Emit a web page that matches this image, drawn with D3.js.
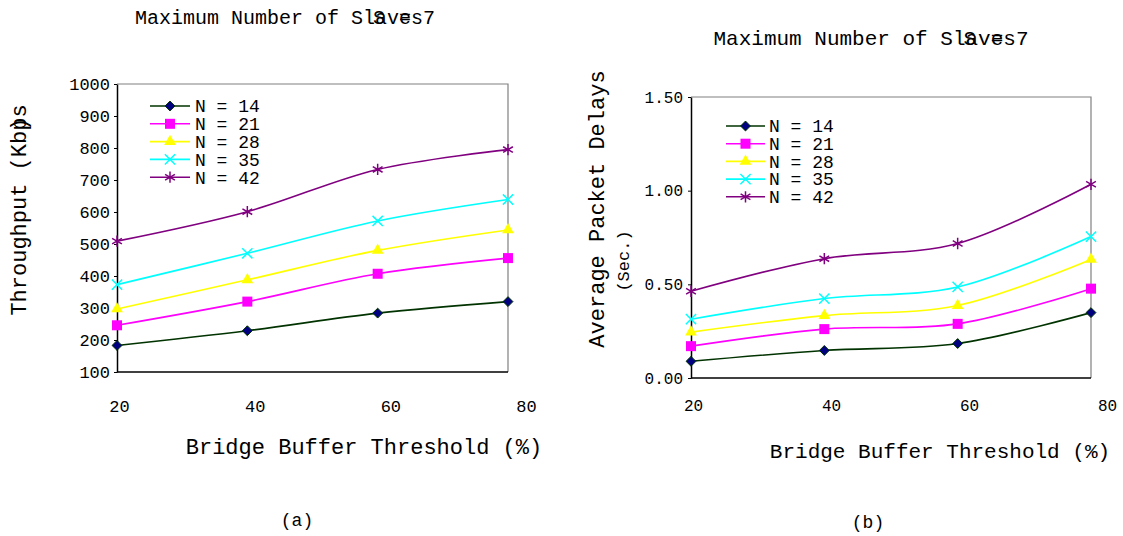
<!DOCTYPE html>
<html>
<head>
<meta charset="utf-8">
<script src="https://cdn.jsdelivr.net/npm/d3@7"></script>
<style>
  body { margin: 0; background: #fff; }
  svg text { font-family: "Courier New", "Liberation Mono", monospace; fill: #000; }
</style>
</head>
<body>
<svg id="chart" width="1123" height="536"></svg>
<script>
// x values (bridge buffer threshold, %)
const bufferPct = [20, 40, 60, 80];
const seriesLabels = ['N = 14', 'N = 21', 'N = 28', 'N = 35', 'N = 42'];

// (a) throughput, Kbps
const throughputN14 = [183, 229, 284, 320];
const throughputN21 = [246, 320, 407, 456];
const throughputN28 = [297, 388, 480, 544];
const throughputN35 = [373, 471, 572, 639];
const throughputN42 = [509, 601, 733, 795];
const throughputTicks = [100, 200, 300, 400, 500, 600, 700, 800, 900, 1000];

// (b) average packet delay, sec
const delayN14 = [0.089, 0.147, 0.184, 0.349];
const delayN21 = [0.170, 0.261, 0.289, 0.477];
const delayN28 = [0.245, 0.333, 0.387, 0.633];
const delayN35 = [0.314, 0.424, 0.486, 0.755];
const delayN42 = [0.463, 0.637, 0.718, 1.034];
const delayTicks = [0, 0.5, 1.0, 1.5];

const seriesStyle = [
  { color: '#003300', fill: '#000080', symbol: d3.symbolDiamond2 || d3.symbolDiamond, size: 62, sw: 1 },
  { color: '#ff00ff', fill: '#ff00ff', symbol: d3.symbolSquare, size: 100, sw: 0 },
  { color: '#ffff00', fill: '#ffff00', symbol: d3.symbolTriangle, size: 60, sw: 0 },
  { color: '#00ffff', fill: 'none', symbol: d3.symbolTimes || d3.symbolX || d3.symbolCross, size: 70, sw: 1.5 },
  { color: '#800080', fill: 'none', symbol: d3.symbolAsterisk || d3.symbolCross, size: 90, sw: 1.5 }
];

const svg = d3.select('#chart');
svg.append('rect').attr('width', 1123).attr('height', 536).attr('fill', '#fff');

// draws a text, then puts extra glyphs on top of some characters (the garbled bits of the original)
function overlayText(g, str, fontSize, overlays) {
  const t = g.append('text').attr('x', 0).attr('y', 0).attr('dy', '0.35em')
    .style('font-size', fontSize + 'px').text(str);
  const node = t.node();
  const w = node.getComputedTextLength();
  t.attr('x', -w / 2);
  overlays.forEach(o => {
    const p = node.getStartPositionOfChar(o.idx);
    g.append('text').attr('x', p.x + (o.dx || 0)).attr('y', 0).attr('dy', '0.35em')
      .style('font-size', fontSize + 'px').text(o.ch);
  });
}

function drawPanel(p) {
  const g = svg.append('g');
  const x = d3.scaleLinear().domain([20, 80]).range([p.left, p.right]);
  const xLab = d3.scaleLinear().domain([20, 80]).range(p.labelRange);
  const y = d3.scaleLinear().domain(p.yDomain).range([p.bottom, p.top]);

  // gray top/right border
  g.append('path')
    .attr('d', `M${p.left},${p.top}H${p.right}V${p.bottom}`)
    .attr('fill', 'none').attr('stroke', '#808080').attr('stroke-width', 1.2);

  // y axis
  const ya = g.append('g').attr('transform', `translate(${p.left},0)`)
    .call(d3.axisLeft(y).tickValues(p.yTicks).tickFormat(p.fmt).tickSizeInner(3).tickSizeOuter(0).tickPadding(p.tickPad));
  ya.select('.domain').attr('stroke', '#000').attr('stroke-width', 1.5);
  ya.selectAll('.tick line').attr('stroke', '#000');
  ya.selectAll('text').style('font-size', p.tickFont + 'px');

  // bottom axis line
  g.append('line').attr('x1', p.left).attr('x2', p.right).attr('y1', p.bottom).attr('y2', p.bottom)
    .attr('stroke', '#000').attr('stroke-width', 1.5);

  // x labels (spread a bit wider than the points, like the original)
  const xa = g.append('g').attr('transform', `translate(0,${p.xLabelY})`)
    .call(d3.axisBottom(xLab).tickValues(bufferPct).tickSize(0).tickPadding(0));
  xa.select('.domain').remove();
  xa.selectAll('text').attr('dy', '0.35em').style('font-size', p.tickFont + 'px');

  const line = d3.line()
    .x(d => x(d[0]))
    .y(d => y(d[1]))
    .curve(d3.curveCatmullRom.alpha(0.5));

  p.series.forEach((vals, i) => {
    const st = seriesStyle[i];
    const pts = bufferPct.map((b, j) => [b, vals[j]]);
    g.append('path').datum(pts)
      .attr('d', line).attr('fill', 'none')
      .attr('stroke', st.color).attr('stroke-width', 1.6);
  });

  p.series.forEach((vals, i) => {
    const st = seriesStyle[i];
    const sym = d3.symbol().type(st.symbol).size(st.size);
    g.selectAll(null).data(bufferPct.map((b, j) => [b, vals[j]]))
      .enter().append('path')
      .attr('transform', d => `translate(${x(d[0])},${y(d[1])})`)
      .attr('d', sym)
      .attr('fill', st.fill)
      .attr('stroke', st.color)
      .attr('stroke-width', st.sw);
  });

  // legend
  const lg = g.append('g');
  seriesLabels.forEach((lab, i) => {
    const st = seriesStyle[i];
    const ly = p.legend.y + i * p.legend.step;
    lg.append('line').attr('x1', p.legend.x0).attr('x2', p.legend.x1).attr('y1', ly).attr('y2', ly)
      .attr('stroke', st.color).attr('stroke-width', 1.6);
    lg.append('path').attr('transform', `translate(${(p.legend.x0 + p.legend.x1) / 2},${ly})`)
      .attr('d', d3.symbol().type(st.symbol).size(st.size))
      .attr('fill', st.fill).attr('stroke', st.color).attr('stroke-width', st.sw);
    lg.append('text').attr('x', p.legend.tx).attr('y', ly).attr('dy', '0.35em')
      .style('font-size', p.legendFont + 'px').text(lab);
  });

  // title
  const tg = g.append('g').attr('transform', `translate(${p.title.cx},${p.title.cy})`);
  overlayText(tg, 'Maximum Number of Slaves7', p.title.size, [
    { idx: 20, ch: 'S', dx: -2 },
    { idx: 22, ch: '=' }
  ]);

  // x title
  g.append('text').attr('x', p.xTitle.cx).attr('y', p.xTitle.cy).attr('dy', '0.35em')
    .attr('text-anchor', 'middle').style('font-size', p.xTitle.size + 'px')
    .text('Bridge Buffer Threshold (%)');

  // y title(s)
  p.yTitles.forEach(t => {
    const yg = g.append('g').attr('transform', `translate(${t.cx},${t.cy}) rotate(-90)`);
    overlayText(yg, t.text, t.size, t.overlays || []);
  });

  // caption
  g.append('text').attr('x', p.caption.cx).attr('y', p.caption.cy).attr('dy', '0.35em')
    .attr('text-anchor', 'middle').style('font-size', p.caption.size + 'px').text(p.caption.text);
}

drawPanel({
  left: 117, right: 508, top: 84, bottom: 372,
  labelRange: [119, 526], xLabelY: 406,
  yDomain: [100, 1000], yTicks: throughputTicks, fmt: d3.format('d'),
  tickFont: 17, tickPad: 4,
  series: [throughputN14, throughputN21, throughputN28, throughputN35, throughputN42],
  legend: { x0: 150, x1: 190, tx: 195, y: 106, step: 17.8 },
  legendFont: 18,
  title: { cx: 285, cy: 17, size: 20 },
  xTitle: { cx: 364, cy: 446, size: 22 },
  yTitles: [{ text: 'Throughput  (Kbps', cx: 18, cy: 210, size: 22, overlays: [{ idx: 14, ch: ')' }] }],
  caption: { cx: 297, cy: 520, size: 18, text: '(a)' }
});

drawPanel({
  left: 691, right: 1091, top: 97, bottom: 378,
  labelRange: [693, 1107], xLabelY: 405,
  yDomain: [0, 1.5], yTicks: delayTicks, fmt: d3.format('.2f'),
  tickFont: 16, tickPad: 5,
  series: [delayN14, delayN21, delayN28, delayN35, delayN42],
  legend: { x0: 726, x1: 765, tx: 769, y: 126, step: 17.7 },
  legendFont: 18,
  title: { cx: 871, cy: 38, size: 21 },
  xTitle: { cx: 940, cy: 451, size: 21 },
  yTitles: [
    { text: 'Average Packet Delays', cx: 596, cy: 209, size: 22 },
    { text: '(Sec.)', cx: 623, cy: 261, size: 17 }
  ],
  caption: { cx: 868, cy: 522, size: 18, text: '(b)' }
});
</script>
</body>
</html>
